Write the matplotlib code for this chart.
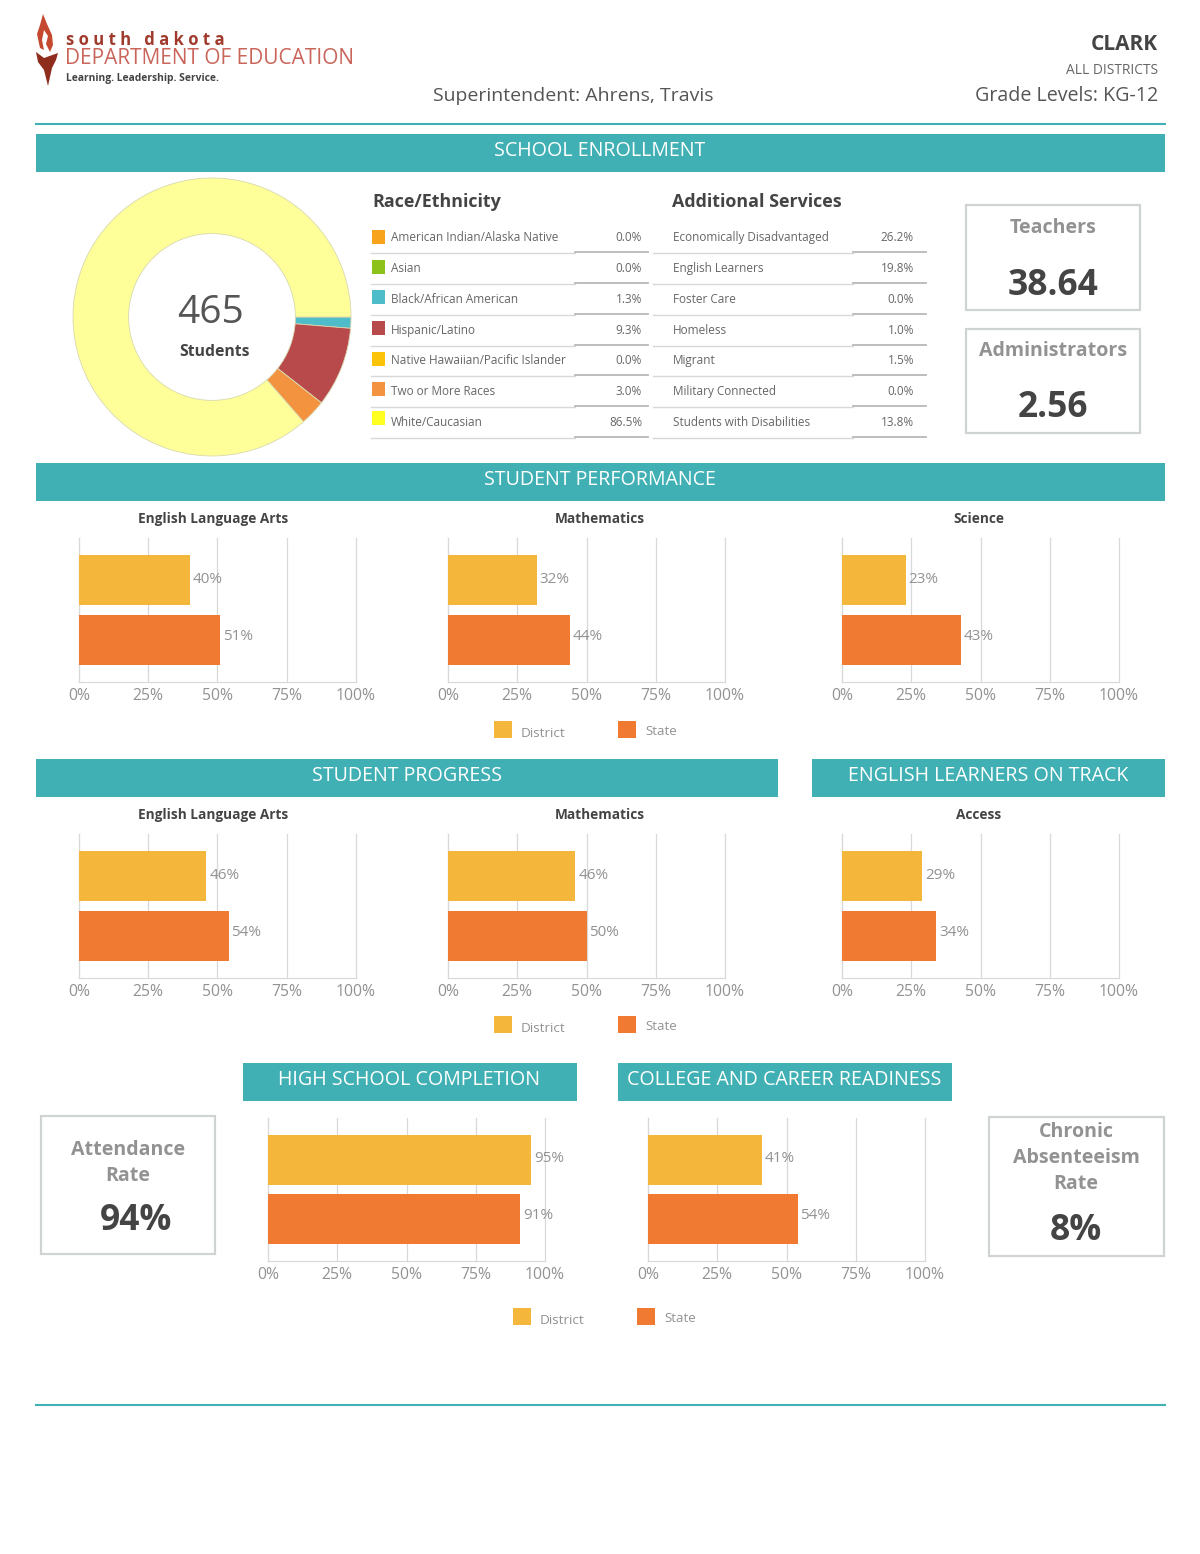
import matplotlib
matplotlib.use("Agg")
import matplotlib.pyplot as plt
from matplotlib.patches import Rectangle, Polygon

plt.rcParams['font.family'] = ['Open Sans', 'DejaVu Sans']

W, H = 1200, 1554
TEAL = '#40b0b4'
YEL = '#f4b73c'
ORG = '#f17a32'
DARK = '#444444'
GREY = '#929292'
BOXC = '#cfd3d3'

# data
race_labels = ['American Indian/Alaska Native', 'Asian', 'Black/African American', 'Hispanic/Latino',
               'Native Hawaiian/Pacific Islander', 'Two or More Races', 'White/Caucasian']
race_values = [0.0, 0.0, 1.3, 9.3, 0.0, 3.0, 86.5]
race_colors = ['#f7a31c', '#8cc21a', '#4fbcc9', '#b94a4c', '#fcc30b', '#f3923f', '#ffff22']
pie_colors = ['#f7a31c', '#8cc21a', '#4fbcc9', '#b94a4c', '#fcc30b', '#f3923f', '#ffff99']

service_labels = ['Economically Disadvantaged', 'English Learners', 'Foster Care', 'Homeless',
                  'Migrant', 'Military Connected', 'Students with Disabilities']
service_values = [26.2, 19.8, 0.0, 1.0, 1.5, 0.0, 13.8]

row_y = [237, 268, 299, 330, 360, 391, 422]
swatch_y = [237, 267, 297, 328, 359, 389, 418]
ticks = [0, 25, 50, 75, 100]

perf_ela = [40, 51]
perf_math = [32, 44]
perf_sci = [23, 43]
prog_ela = [46, 54]
prog_math = [46, 50]
el_access = [29, 34]
hs_completion = [95, 91]
ccr = [41, 54]

fig = plt.figure(figsize=(W / 100, H / 100), dpi=100, facecolor='white')
bg = fig.add_axes([0, 0, 1, 1])
bg.set_xlim(0, W)
bg.set_ylim(H, 0)
bg.axis('off')


def band(x0, x1, y0, y1, label):
    bg.add_patch(Rectangle((x0, y0), x1 - x0, y1 - y0, color=TEAL, lw=0))
    bg.text((x0 + x1) / 2 - 0.5, (y0 + y1) / 2 + 3, label, color='white', fontsize=14.1, ha='center', va='baseline')


def stat_box(x0, x1, y0, y1):
    bg.add_patch(Rectangle((x0, y0), x1 - x0, y1 - y0, fc='white', ec=BOXC, lw=1.6))


def bar_panel(x0, x1, y0, y1, vals, title=None, title_x=None):
    ax = fig.add_axes([x0 / W, 1 - y1 / H, (x1 - x0) / W, (y1 - y0) / H])
    ax.barh([0, 1], vals, height=0.835, color=[YEL, ORG], zorder=3)
    ax.set_xlim(0, 100)
    ax.set_ylim(1.7, -0.7)
    ax.set_yticks([])
    ax.set_xticks(ticks)
    ax.set_xticklabels([f'{t}%' for t in ticks], color=GREY, fontsize=11.3)
    ax.tick_params(axis='x', length=0, pad=4)
    ax.grid(axis='x', color='#d8d8d8', lw=0.9, zorder=1, clip_on=False)
    ax.set_axisbelow(True)
    for s in ['top', 'right']:
        ax.spines[s].set_visible(False)
    ax.spines['left'].set_color('#d8d8d8')
    ax.spines['bottom'].set_color('#d8d8d8')
    ax.patch.set_alpha(0)
    for i, v in enumerate(vals):
        ax.text(v + 1.0, i + (-0.015 if i == 0 else -0.06), f'{v}%', color=GREY, fontsize=11, va='center', zorder=4)
    if title:
        bg.text(title_x, y0 - 15, title, color=DARK, fontsize=9.8, fontweight='bold', ha='center', va='baseline')


def legend(x1, x2, y):
    bg.add_patch(Rectangle((x1, y - 9), 18, 17, color=YEL, lw=0))
    bg.text(x1 + 27, y + 7, 'District', color=GREY, fontsize=9.7, va='baseline')
    bg.add_patch(Rectangle((x2, y - 9), 18, 17, color=ORG, lw=0))
    bg.text(x2 + 27, y + 5, 'State', color=GREY, fontsize=9.5, va='baseline')


# header
bg.add_patch(Polygon([(43, 14), (47, 24), (52, 35), (53, 45), (50, 52), (46, 44), (48, 36), (44, 30), (42, 40),
                      (44, 50), (40, 48), (37, 34), (40, 25)], color='#c4492f', lw=0))
bg.add_patch(Polygon([(36, 52), (44, 58), (58, 53), (56, 60), (52, 68), (48, 86), (44, 70), (38, 62)],
                     color='#8f2d1d', lw=0))
bg.text(66, 45, 's o u t h   d a k o t a', color='#a03a2c', fontsize=12, fontweight='bold', va='baseline')
bg.text(65, 64, 'DEPARTMENT OF EDUCATION', color='#c9655a', fontsize=15, va='baseline')
bg.text(66, 81, 'Learning. Leadership. Service.', color='#444444', fontsize=7.4, fontweight='bold', va='baseline')
bg.text(573, 101, 'Superintendent: Ahrens, Travis', color='#555555', fontsize=14, ha='center', va='baseline')
bg.text(1158, 50, 'CLARK', color=DARK, fontsize=15, fontweight='bold', ha='right', va='baseline')
bg.text(1158, 74, 'ALL DISTRICTS', color='#666666', fontsize=9.9, ha='right', va='baseline')
bg.text(1158, 101, 'Grade Levels: KG-12', color='#555555', fontsize=14.1, ha='right', va='baseline')
bg.plot([36, 1165], [124, 124], color=TEAL, lw=1.5)
bg.plot([36, 1165], [1405, 1405], color=TEAL, lw=1.5)

band(36, 1165, 134, 172, 'SCHOOL ENROLLMENT')
band(36, 1165, 463, 501, 'STUDENT PERFORMANCE')
band(36, 778, 759, 797, 'STUDENT PROGRESS')
band(812, 1165, 759, 797, 'ENGLISH LEARNERS ON TRACK')
band(243, 577, 1063, 1101, 'HIGH SCHOOL COMPLETION')
band(618, 952, 1063, 1101, 'COLLEGE AND CAREER READINESS')

# donut
pie_ax = fig.add_axes([73 / W, 1 - 456 / H, 278 / W, 278 / H])
pie_ax.pie(race_values, colors=pie_colors, startangle=0, counterclock=False, radius=1,
           wedgeprops=dict(width=0.4, edgecolor='#d8d8b0', linewidth=0.6))
pie_ax.set_xlim(-1, 1)
pie_ax.set_ylim(-1, 1)
bg.text(211, 323, '465', color='#555555', fontsize=28, ha='center', va='baseline')
bg.text(214, 356, 'Students', color=DARK, fontsize=11.3, fontweight='bold', ha='center', va='baseline')

# tables
bg.text(372, 207, 'Race/Ethnicity', color=DARK, fontsize=12.9, fontweight='bold', va='baseline')
bg.text(672, 207, 'Additional Services', color=DARK, fontsize=12.9, fontweight='bold', va='baseline')
for y, sy, lab, val, c in zip(row_y, swatch_y, race_labels, race_values, race_colors):
    bg.add_patch(Rectangle((372, sy - 7), 13, 14, color=c, lw=0))
    bg.text(391, y + 4, lab, color='#666666', fontsize=8.5, va='baseline')
    bg.text(642, y + 4, f'{val:.1f}%', color='#666666', fontsize=8.5, ha='right', va='baseline')
    bg.plot([371, 575], [y + 16, y + 16], color='#d8d8d8', lw=1)
    bg.plot([575, 648], [y + 15, y + 15], color='#b8b8b8', lw=1.3)
for y, lab, val in zip(row_y, service_labels, service_values):
    bg.text(673, y + 4, lab, color='#666666', fontsize=8.5, va='baseline')
    bg.text(914, y + 4, f'{val:.1f}%', color='#666666', fontsize=8.5, ha='right', va='baseline')
    bg.plot([653, 853], [y + 16, y + 16], color='#d8d8d8', lw=1)
    bg.plot([853, 926], [y + 15, y + 15], color='#b8b8b8', lw=1.3)

# stat boxes
stat_box(966, 1140, 205, 310)
bg.text(1053, 233, 'Teachers', color=GREY, fontsize=14.1, fontweight='bold', ha='center', va='baseline')
bg.text(1053, 295, '38.64', color=DARK, fontsize=25.5, fontweight='bold', ha='center', va='baseline')
stat_box(966, 1140, 329, 433)
bg.text(1053, 356, 'Administrators', color=GREY, fontsize=14.1, fontweight='bold', ha='center', va='baseline')
bg.text(1053, 417, '2.56', color=DARK, fontsize=25.5, fontweight='bold', ha='center', va='baseline')
stat_box(41, 215, 1116, 1254)
bg.text(128, 1163, 'Attendance\nRate', color=GREY, fontsize=14.1, fontweight='bold', ha='center', va='center',
        linespacing=1.38)
bg.text(136, 1230, '94%', color=DARK, fontsize=25.5, fontweight='bold', ha='center', va='baseline')
stat_box(989, 1164, 1117, 1256)
bg.text(1076, 1158, 'Chronic\nAbsenteeism\nRate', color=GREY, fontsize=14.1, fontweight='bold', ha='center',
        va='center', linespacing=1.42)
bg.text(1076, 1240, '8%', color=DARK, fontsize=25.5, fontweight='bold', ha='center', va='baseline')

# bar panels
bar_panel(79, 356, 538, 682, perf_ela, 'English Language Arts', 213)
bar_panel(448, 725, 538, 682, perf_math, 'Mathematics', 600)
bar_panel(842, 1119, 538, 682, perf_sci, 'Science', 979)
legend(494, 618, 730)

bar_panel(79, 356, 834, 978, prog_ela, 'English Language Arts', 213)
bar_panel(448, 725, 834, 978, prog_math, 'Mathematics', 600)
bar_panel(842, 1119, 834, 978, el_access, 'Access', 979)
legend(494, 618, 1025)

bar_panel(268, 545, 1118, 1261, hs_completion)
bar_panel(648, 925, 1118, 1261, ccr)
legend(513, 637, 1317)

fig.savefig('out.png', dpi=100, facecolor='white')
